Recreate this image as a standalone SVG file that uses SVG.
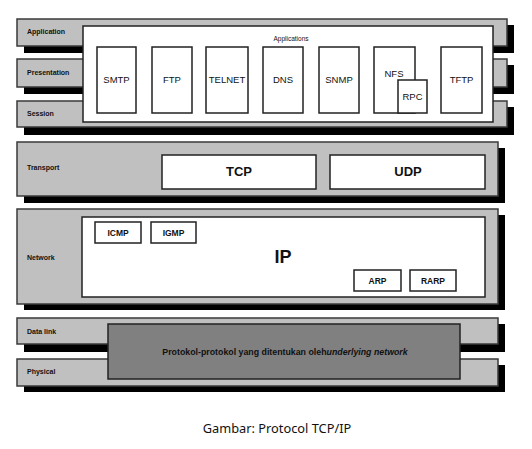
<svg xmlns="http://www.w3.org/2000/svg" width="532" height="449" viewBox="0 0 532 449">
<style>
.sh{fill:#000}
.band{fill:#c0c0c0;stroke:#3a3a3a;stroke-width:1.5}
.wb{fill:#fff;stroke:#222;stroke-width:1.5}
.lbl{font-family:"Liberation Sans",Arial,sans-serif;font-size:7px;font-weight:bold;fill:#111}
.bx{font-family:"Liberation Sans",Arial,sans-serif;font-size:9.5px;fill:#111;text-anchor:middle}
.bb{font-family:"Liberation Sans",Arial,sans-serif;font-weight:bold;fill:#111;text-anchor:middle}
</style>
<rect width="532" height="449" fill="#fff"/>
<g id="layers">
<g id="application">
<rect class="sh" x="24" y="25" width="490" height="28"/>
<rect class="band" x="17" y="19" width="490" height="27"/>
<text class="lbl" x="27" y="34">Application</text>
</g>
<g id="presentation">
<rect class="sh" x="24" y="65" width="490" height="29"/>
<rect class="band" x="17" y="59" width="490" height="28"/>
<text class="lbl" x="27" y="75">Presentation</text>
</g>
<g id="session">
<rect class="sh" x="24" y="107" width="490" height="28"/>
<rect class="band" x="17" y="101" width="490" height="26"/>
<text class="lbl" x="27" y="116">Session</text>
</g>
<g id="transport">
<rect class="sh" x="24" y="148" width="481" height="55"/>
<rect class="band" x="17" y="142" width="481" height="54"/>
<text class="lbl" x="27" y="170">Transport</text>
</g>
<g id="network">
<rect class="sh" x="24" y="215" width="481" height="95"/>
<rect class="band" x="17" y="209" width="481" height="95"/>
<text class="lbl" x="27" y="260">Network</text>
</g>
<g id="datalink">
<rect class="sh" x="24" y="324" width="481" height="28"/>
<rect class="band" x="17" y="318" width="481" height="26"/>
<text class="lbl" x="27" y="334">Data link</text>
</g>
<g id="physical">
<rect class="sh" x="24" y="365" width="481" height="27"/>
<rect class="band" x="17" y="359" width="481" height="27"/>
<text class="lbl" x="27" y="374">Physical</text>
</g>
</g>
<g id="applications">
<rect class="wb" x="83" y="26" width="410" height="96"/>
<text x="291" y="41" font-family="'Liberation Sans',Arial,sans-serif" font-size="6.5px" fill="#111" text-anchor="middle">Applications</text>
<g id="smtp"><rect class="wb" x="97" y="47" width="39" height="66"/><text class="bx" x="116.5" y="83">SMTP</text></g>
<g id="ftp"><rect class="wb" x="152" y="47" width="40" height="66"/><text class="bx" x="172" y="83">FTP</text></g>
<g id="telnet"><rect class="wb" x="206" y="47" width="42" height="66"/><text class="bx" x="227" y="83">TELNET</text></g>
<g id="dns"><rect class="wb" x="263" y="47" width="40" height="66"/><text class="bx" x="283" y="83">DNS</text></g>
<g id="snmp"><rect class="wb" x="319" y="47" width="40" height="66"/><text class="bx" x="339" y="83">SNMP</text></g>
<g id="nfs"><rect class="wb" x="374" y="47" width="41" height="66"/><text class="bx" x="394" y="77">NFS</text></g>
<g id="rpc"><rect class="wb" x="398" y="80" width="29" height="33"/><text class="bx" x="412.5" y="100">RPC</text></g>
<g id="tftp"><rect class="wb" x="441" y="47" width="41" height="66"/><text class="bx" x="461.5" y="83">TFTP</text></g>
</g>
<g id="tcp"><rect class="wb" x="162" y="155" width="154" height="34"/><text class="bb" x="239" y="176" font-size="13px">TCP</text></g>
<g id="udp"><rect class="wb" x="330" y="155" width="155" height="34"/><text class="bb" x="408" y="176" font-size="13px">UDP</text></g>
<g id="ip">
<rect class="wb" x="82" y="217" width="403" height="80"/>
<text class="bb" x="283" y="263" font-size="18px">IP</text>
<g id="icmp"><rect class="wb" x="95" y="222" width="46" height="21"/><text class="bb" x="118" y="235.5" font-size="8.5px">ICMP</text></g>
<g id="igmp"><rect class="wb" x="151" y="222" width="45" height="21"/><text class="bb" x="173.5" y="235.5" font-size="8.5px">IGMP</text></g>
<g id="arp"><rect class="wb" x="354" y="270" width="47" height="21"/><text class="bb" x="377.5" y="283.5" font-size="8.5px">ARP</text></g>
<g id="rarp"><rect class="wb" x="410" y="270" width="46" height="21"/><text class="bb" x="433" y="283.5" font-size="8.5px">RARP</text></g>
</g>
<g id="underlying">
<rect x="108" y="324" width="352" height="55" fill="#808080" stroke="#222" stroke-width="1.5"/>
<text class="bb" x="285" y="355" font-size="8.8px">Protokol-protokol yang ditentukan oleh<tspan font-style="italic">underlying network</tspan></text>
</g>
<text x="277" y="433" font-family="'Noto Sans','Open Sans',sans-serif" font-size="12.8px" fill="#111" text-anchor="middle">Gambar: Protocol TCP/IP</text>
</svg>
